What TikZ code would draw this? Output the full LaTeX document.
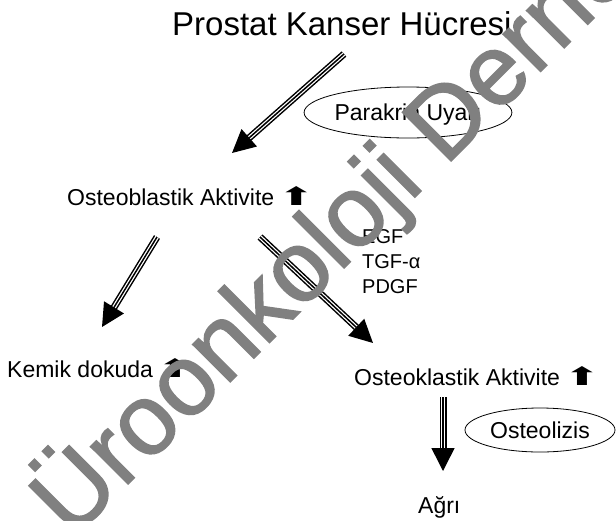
\documentclass[tikz,border=0pt]{standalone}
\usepackage{fontspec}
\setmainfont{Liberation Sans}
\newfontfamily\symfont{DejaVu Sans}
\newfontfamily\wmfont{Liberation Sans}[FakeBold=1.5]
\usepackage{tikz}
\usetikzlibrary{calc,positioning,shapes.geometric,arrows.meta}
\newcommand\hoch{\scalebox{1.55}[0.9]{\symfont\fontsize{28}{28}\selectfont ⬆}}
\tikzset{
	txt/.style={anchor=base west, inner sep=0pt, font=\fontsize{23}{27}\selectfont},
	small/.style={txt, font=\fontsize{20}{25}\selectfont},
	oval/.style={draw, ellipse, line width=.8pt, inner sep=0pt, text depth=0pt, font=\fontsize{23}{27}\selectfont},
	tri/.style={-{Triangle[length=23pt,width=23pt]}, line width=1.5pt,
		preaction={draw, -, line width=7pt, shorten >=20pt},
		preaction={draw=white, -, line width=4pt, shorten >=20pt}},
	wmark/.style={anchor=base west, inner sep=0pt, rotate=45, text=gray, font=\wmfont\fontsize{100}{100}\selectfont},
}

\begin{document}
\begin{tikzpicture}[x=1pt,y=-1pt]
	\useasboundingbox (0,0) rectangle (616,520);
	\node[txt, font=\fontsize{33}{38}\selectfont] at (172,35) (pkh) {Prostat Kanser Hücresi};
	\node[oval, minimum width=190pt, minimum height=51pt] at (408,112.5) (para) {Parakrin Uyarı};

	\node[txt] at (67,205) (blast) {Osteoblastik Aktivite\,\hoch};
	\node[small] at (362,243) (egf) {EGF};
	\node[small] at (362,268) (tgf) {TGF-α};
	\node[small] at (362,293) (pdgf) {PDGF};

	\node[txt] at (7,377) (kemik) {Kemik dokuda\,\hoch};
	\node[txt] at (354,385) (klast) {Osteoklastik Aktivite\,\hoch};
	\node[oval, minimum width=150pt, minimum height=44pt] at (540,430) (lizis) {Osteolizis};
	\node[txt] at (418,513) (agri) {Ağrı};

	\coordinate (pkh-out) at (344,54);
	\coordinate (blast-in) at (232,153);
	\coordinate (blast-l) at (157,237);
	\coordinate (kemik-in) at (102,327);
	\coordinate (blast-r) at (260,237);
	\coordinate (klast-in) at (373,343);
	\coordinate (klast-out) at (443,397);
	\coordinate (agri-in) at (443,471);

	\draw[tri] (pkh-out) -- (blast-in);
	\draw[tri] (blast-l) -- (kemik-in);
	\draw[tri] (blast-r) -- (klast-in);
	\draw[tri] (klast-out) -- (agri-in);

	\node[wmark] at (72,540) (wm) {Üroonkoloji Derne};
\end{tikzpicture}
\end{document}
